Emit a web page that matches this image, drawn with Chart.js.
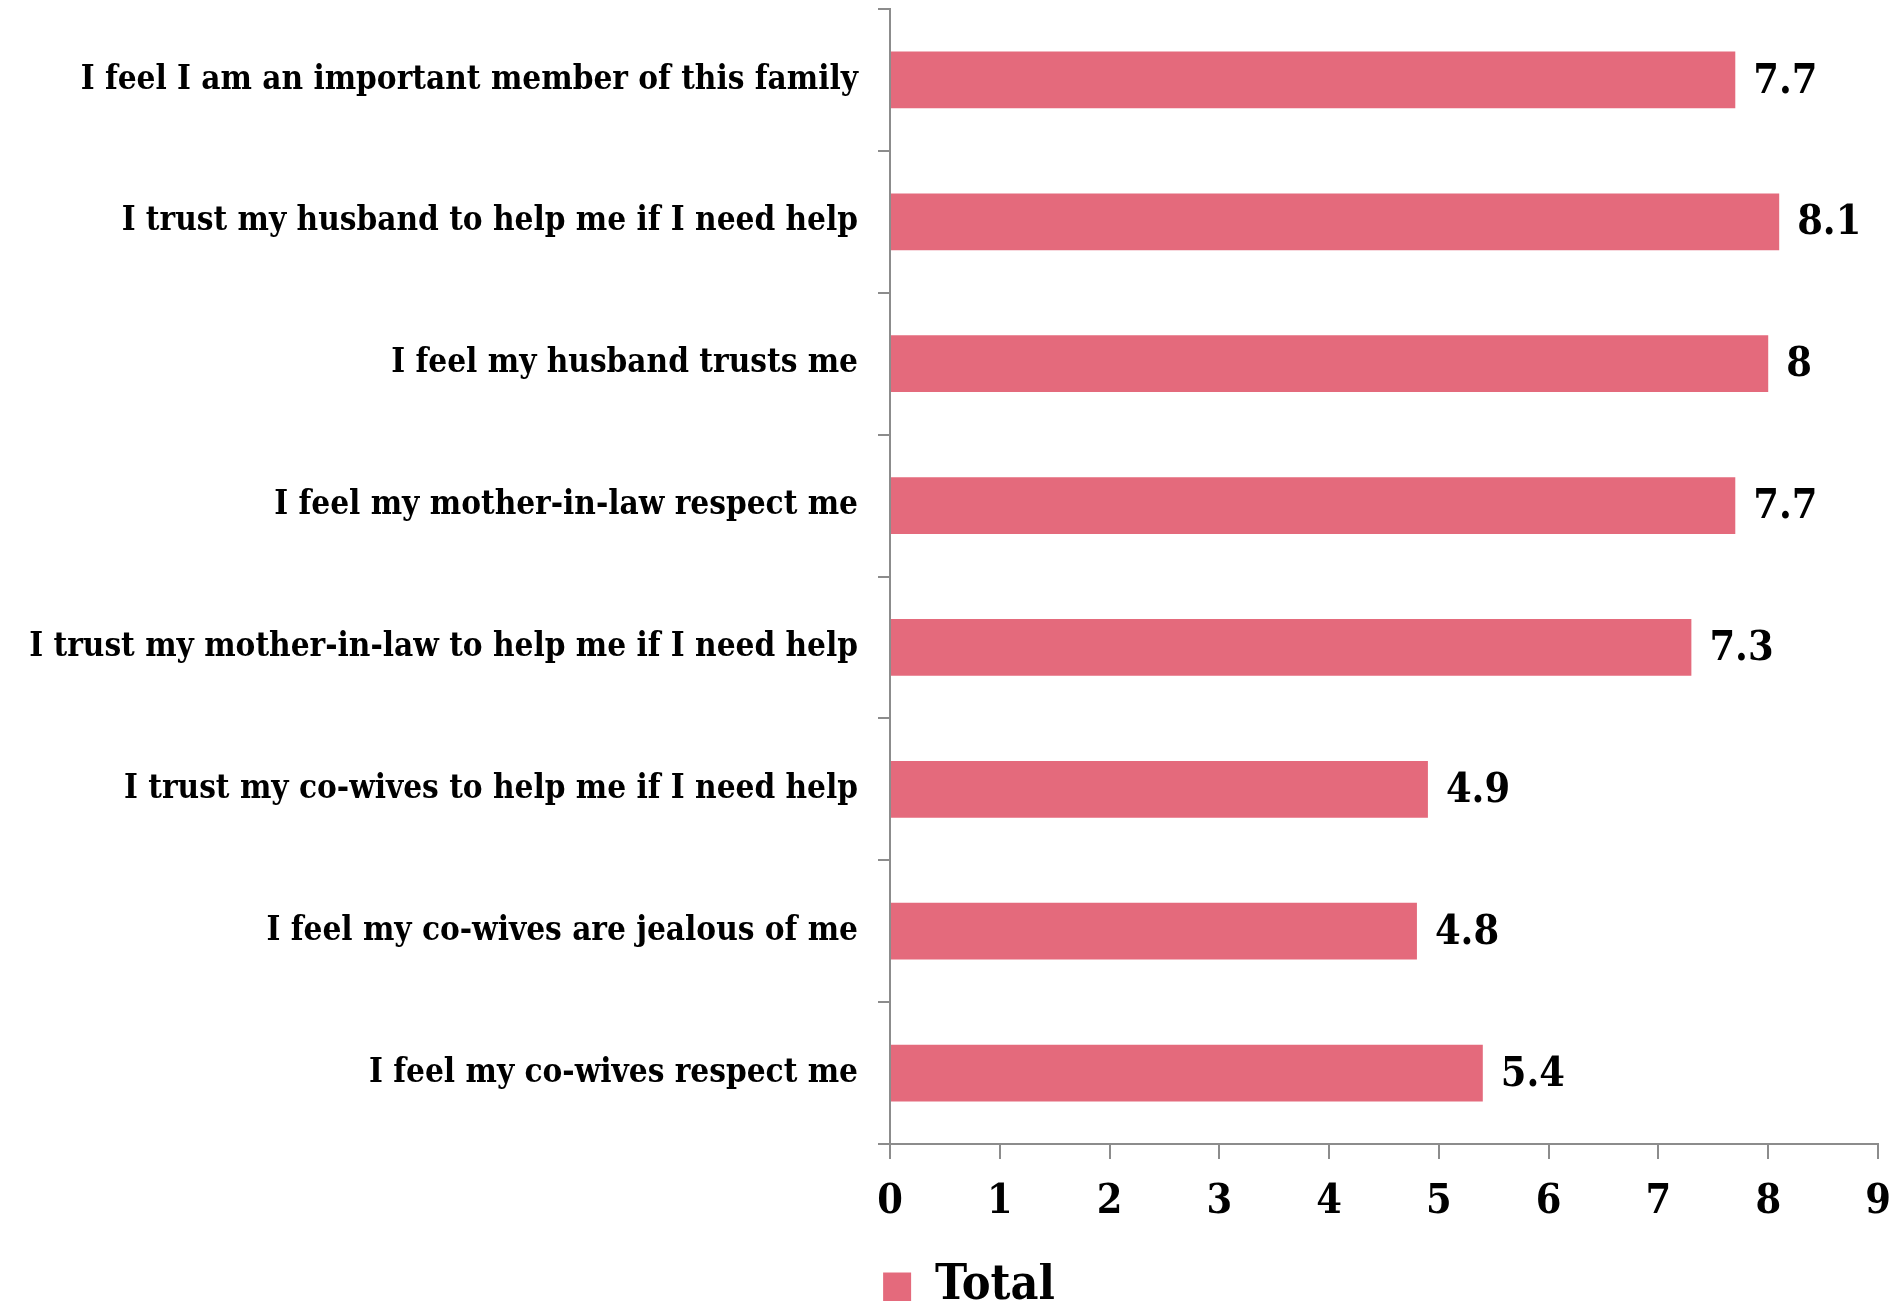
<!DOCTYPE html>
<html>
<head>
<meta charset="utf-8">
<script src="https://cdn.jsdelivr.net/npm/chart.js@4/dist/chart.umd.min.js"></script>
<style>
  html, body { margin: 0; padding: 0; background: #fff; }
  #wrap { width: 1895px; height: 1301px; }
</style>
</head>
<body>
<div id="wrap"><canvas id="bar-chart"></canvas></div>
<script>
const statements = [
  'I feel I am an important member of this family',
  'I trust my husband to help me if I need help',
  'I feel my husband trusts me',
  'I feel my mother-in-law respect me',
  'I trust my mother-in-law to help me if I need help',
  'I trust my co-wives to help me if I need help',
  'I feel my co-wives are jealous of me',
  'I feel my co-wives respect me'
];
const totals = [7.7, 8.1, 8, 7.7, 7.3, 4.9, 4.8, 5.4];
const xTicks = [0, 1, 2, 3, 4, 5, 6, 7, 8, 9];

const SERIF = "'DejaVu Serif Condensed', 'Liberation Serif', serif";
const AXIS_GREY = '#8c8c8c';
const BAR_PINK = 'rgb(228, 106, 124)';

// value labels written just past the end of each bar
const valueLabels = {
  id: 'valueLabels',
  afterDatasetsDraw(chart) {
    const ctx = chart.ctx;
    const meta = chart.getDatasetMeta(0);
    ctx.save();
    ctx.font = 'bold 41px ' + SERIF;
    ctx.fillStyle = '#000';
    ctx.textAlign = 'left';
    ctx.textBaseline = 'middle';
    meta.data.forEach(function (bar, i) {
      ctx.fillText(String(totals[i]), bar.x + 18, bar.y + 2);
    });
    ctx.restore();
  }
};

// nudge the legend so it sits under the start of the value axis
const legendNudge = {
  id: 'legendNudge',
  afterLayout(chart) {
    if (chart.legend) {
      chart.legend.left += 30;
      chart.legend.right += 30;
    }
  }
};

const box = document.getElementById('bar-chart');

new Chart(box.getContext('2d'), {
  type: 'bar',
  data: {
    labels: statements,
    datasets: [{
      label: 'Total',
      data: totals,
      backgroundColor: BAR_PINK,
      borderWidth: 0,
      categoryPercentage: 1,
      barPercentage: 0.4
    }]
  },
  plugins: [valueLabels, legendNudge],
  options: {
    indexAxis: 'y',
    responsive: true,
    maintainAspectRatio: false,
    animation: false,
    layout: {
      padding: { top: 9, right: 17, left: 0, bottom: -20 }
    },
    plugins: {
      tooltip: { enabled: false },
      legend: {
        position: 'bottom',
        labels: {
          boxWidth: 28,
          boxHeight: 29,
          padding: 0,
          color: '#000',
          font: { family: SERIF, size: 48, weight: 'bold' }
        }
      }
    },
    scales: {
      x: {
        type: 'linear',
        min: xTicks[0],
        max: xTicks[xTicks.length - 1],
        afterBuildTicks: function (scale) {
          scale.ticks = xTicks.map(function (v) { return { value: v }; });
        },
        afterFit: function (scale) {
          scale.height = 119;
          scale.paddingLeft = 0;
          scale.paddingRight = 0;
        },
        border: { display: true, color: AXIS_GREY, width: 2 },
        grid: {
          drawOnChartArea: false,
          drawTicks: true,
          tickLength: 15,
          color: AXIS_GREY,
          lineWidth: 2
        },
        ticks: {
          color: '#000',
          padding: 19,
          font: { family: SERIF, size: 41, weight: 'bold' }
        }
      },
      y: {
        afterFit: function (scale) {
          scale.width = 890;
          scale.paddingTop = 0;
          scale.paddingBottom = 0;
        },
        border: { display: true, color: AXIS_GREY, width: 2 },
        grid: {
          offset: true,
          drawOnChartArea: false,
          drawTicks: true,
          tickLength: 12,
          color: AXIS_GREY,
          lineWidth: 2
        },
        ticks: {
          color: '#000',
          padding: 20,
          font: { family: SERIF, size: 33, weight: 'bold' }
        }
      }
    }
  }
});
</script>
</body>
</html>
